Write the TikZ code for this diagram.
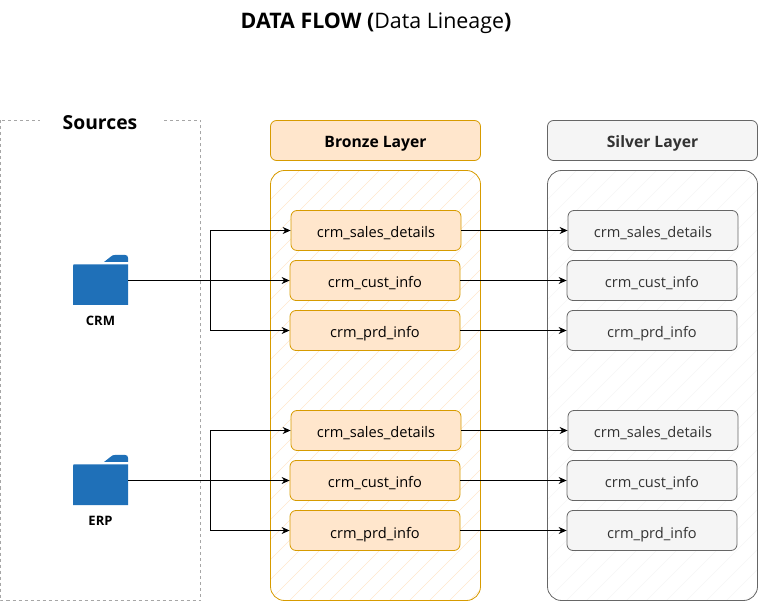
\documentclass[tikz,border=0pt]{standalone}
\usepackage{fontspec}
\setmainfont{Open Sans}
\usetikzlibrary{arrows.meta}
\definecolor{brzF}{HTML}{FFE6CC}
\definecolor{brzS}{HTML}{D79B00}
\definecolor{slvF}{HTML}{F5F5F5}
\definecolor{slvS}{HTML}{666666}
\definecolor{slvT}{HTML}{333333}
\definecolor{fold}{HTML}{1F70B8}
\tikzset{
  x=1pt,y=-1pt,
  header/.style={rounded corners=6pt,minimum width=210pt,minimum height=40pt,inner sep=0pt,font=\fontsize{15.7}{18}\selectfont\bfseries,text height=14pt,text depth=0pt},
  bheader/.style={header,draw=brzS,fill=brzF,line width=.8pt},
  sheader/.style={header,draw=slvS,fill=slvF,text=slvT,line width=.8pt},
  tablebox/.style={rounded corners=6pt,minimum width=170pt,minimum height=40pt,inner sep=0pt,line width=.8pt,font=\fontsize{14.6}{17}\selectfont,text height=15pt,text depth=0pt},
  btable/.style={tablebox,draw=brzS,fill=brzF},
  stable/.style={tablebox,draw=slvS,fill=slvF,text=slvT},
  flow/.style={draw=black,line width=.8pt,-{Stealth[length=8pt,width=7pt]}},
  foldernode/.style={minimum width=55pt,minimum height=50pt,inner sep=0pt},
  caption/.style={font=\fontsize{13}{15}\selectfont\bfseries,inner sep=0pt},
  hatchB/.style={draw=brzF,line width=.6pt},
  hatchS/.style={draw=slvF,line width=.6pt},
}
\newcommand{\folderat}[2]{%
  \fill[fold] (#1+.5,#2+9.5) -- (#1+55,#2+9.5) -- (#1+55,#2+50) -- (#1,#2+50) -- (#1,#2+11) -- cycle;
  \fill[fold] (#1+31,#2+7) -- (#1+38,#2+1.5) .. controls (#1+39,#2+.5) and (#1+40,#2) .. (#1+42,#2) -- (#1+52,#2) .. controls (#1+54,#2) and (#1+55,#2+1) .. (#1+55,#2+3) -- (#1+55,#2+7) -- cycle;
}
\begin{document}
\begin{tikzpicture}
\useasboundingbox (0,0) rectangle (758,601);
% title
\node[inner sep=0pt,font=\fontsize{21.4}{24}\selectfont] (title) at (376,23.5) {\textbf{DATA FLOW (}Data Lineage\textbf{)}};
% sources
\draw[draw=black!35,line width=.7pt,dash pattern=on 3pt off 3pt] (0.5,120.5) rectangle (200.5,600.5);
\node[fill=white,minimum width=122pt,minimum height=12pt,inner sep=0pt,font=\fontsize{19.3}{22}\selectfont\bfseries] (sources) at (101,123) {\hspace{-2pt}Sources};
% containers
\begin{scope}
\clip[rounded corners=14pt] (270.5,170.5) rectangle (480.5,600.5);
\foreach \k in {0,1,...,33} \draw[hatchB] (270+\k*20-10,170) -- ++(-440,440);
\end{scope}
\draw[draw=brzS,line width=.8pt,rounded corners=14pt] (270.5,170.5) rectangle (480.5,600.5);
\begin{scope}
\clip[rounded corners=14pt] (547.5,170.5) rectangle (757.5,600.5);
\foreach \k in {0,1,...,33} \draw[hatchS] (547+\k*20-10,170) -- ++(-440,440);
\end{scope}
\draw[draw=slvS,line width=.8pt,rounded corners=14pt] (547.5,170.5) rectangle (757.5,600.5);
\node[bheader] (bronzehead) at (375.5,140.5) {Bronze Layer};
\node[sheader] (silverhead) at (652.5,140.5) {Silver Layer};
% folders
\folderat{73}{255}
\folderat{73}{455}
\node[foldernode] (crm) at (100.5,280.5) {};
\node[foldernode] (erp) at (100.5,480.5) {};
\node[caption] (crmlabel) at (100.5,320.5) {CRM};
\node[caption] (erplabel) at (100.5,520.5) {ERP};
% bronze tables
\node[btable] (b1) at (376,230.5) {crm\_sales\_details};
\node[btable] (b2) at (375,280.5) {crm\_cust\_info};
\node[btable] (b3) at (375,330.5) {crm\_prd\_info};
\node[btable] (b4) at (376,430.5) {crm\_sales\_details};
\node[btable] (b5) at (375,480.5) {crm\_cust\_info};
\node[btable] (b6) at (375,530.5) {crm\_prd\_info};
% silver tables
\node[stable] (s1) at (653,230.5) {crm\_sales\_details};
\node[stable] (s2) at (652,280.5) {crm\_cust\_info};
\node[stable] (s3) at (652,330.5) {crm\_prd\_info};
\node[stable] (s4) at (653,430.5) {crm\_sales\_details};
\node[stable] (s5) at (652,480.5) {crm\_cust\_info};
\node[stable] (s6) at (652,530.5) {crm\_prd\_info};
% connectors
\coordinate (crmx) at (210.5,280.5);
\coordinate (erpx) at (210.5,480.5);
\draw[flow] (crm.east) -- (b2.west);
\draw[flow] (crmx) |- (b1.west);
\draw[flow] (crmx) |- (b3.west);
\draw[flow] (erp.east) -- (b5.west);
\draw[flow] (erpx) |- (b4.west);
\draw[flow] (erpx) |- (b6.west);
\draw[flow] (b1) -- (s1);
\draw[flow] (b2) -- (s2);
\draw[flow] (b3) -- (s3);
\draw[flow] (b4) -- (s4);
\draw[flow] (b5) -- (s5);
\draw[flow] (b6) -- (s6);
\end{tikzpicture}
\end{document}
